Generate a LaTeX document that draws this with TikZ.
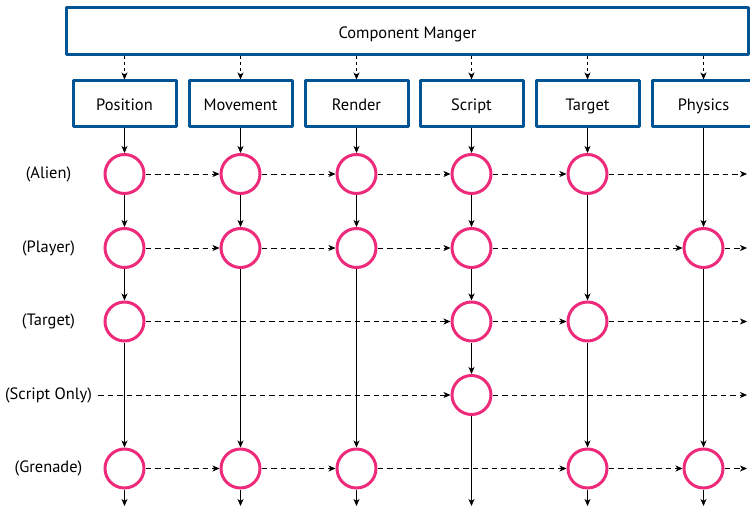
\documentclass[tikz,border=0pt]{standalone}
\usepackage{fontspec}
\setmainfont{PT Sans}
\usetikzlibrary{arrows.meta}
\definecolor{mgrblue}{RGB}{0,84,147}
\definecolor{entpink}{RGB}{237,43,122}

\begin{document}
\begin{tikzpicture}[x=1bp,y=-1bp,line join=round,>={Stealth[length=7bp,width=6bp,inset=2bp]},
  comp/.style={draw=mgrblue,line width=3bp,minimum width=103bp,minimum height=46bp,inner sep=0pt,text height=14bp,text depth=0pt,font=\fontsize{16.5}{19}\selectfont},
  ent/.style={circle,draw=entpink,line width=3bp,minimum size=39bp,inner sep=0pt},
  lbl/.style={font=\fontsize{16.5}{19}\selectfont,inner sep=2bp},
  link/.style={->,line width=0.8bp},
  pass/.style={->,line width=0.8bp,dash pattern=on 5.5bp off 4bp}]
\useasboundingbox (0,0) rectangle (750,508);
\clip (0,0) rectangle (750,508);
% manager and components
\node[comp,minimum width=681bp,minimum height=47bp] (mgr) at (407.5,31.5) {Component Manger};
\node[comp] (cpos) at (124.5,104) {Position};
\node[comp] (cmov) at (240.5,104) {Movement};
\node[comp] (cren) at (356.5,104) {Render};
\node[comp] (cscr) at (471.5,104) {Script};
\node[comp] (ctgt) at (587.5,104) {Target};
\node[comp] (cphy) at (703.5,104) {Physics};
% entity labels
\node[lbl] (lali) at (48.5,174) {(Alien)};
\node[lbl] (lpla) at (48.5,248) {(Player)};
\node[lbl] (ltgt) at (48.5,321.5) {(Target)};
\node[lbl] (lscr) at (48.5,395) {(Script Only)};
\node[lbl] (lgre) at (48.5,468.5) {(Grenade)};
% entities
\node[ent] (a1) at (124.5,174) {};
\node[ent] (a2) at (240.5,174) {};
\node[ent] (a3) at (356.5,174) {};
\node[ent] (a4) at (471.5,174) {};
\node[ent] (a5) at (587.5,174) {};
\node[ent] (p1) at (124.5,248) {};
\node[ent] (p2) at (240.5,248) {};
\node[ent] (p3) at (356.5,248) {};
\node[ent] (p4) at (471.5,248) {};
\node[ent] (p6) at (703.5,248) {};
\node[ent] (t1) at (124.5,321.5) {};
\node[ent] (t4) at (471.5,321.5) {};
\node[ent] (t5) at (587.5,321.5) {};
\node[ent] (s4) at (471.5,395) {};
\node[ent] (g1) at (124.5,468.5) {};
\node[ent] (g2) at (240.5,468.5) {};
\node[ent] (g3) at (356.5,468.5) {};
\node[ent] (g5) at (587.5,468.5) {};
\node[ent] (g6) at (703.5,468.5) {};
% free ends
\coordinate (eali) at (747,174);
\coordinate (epla) at (747,248);
\coordinate (etgt) at (747,321.5);
\coordinate (escr) at (747,395);
\coordinate (egre) at (747,468.5);
\coordinate (bpos) at (124.5,506);
\coordinate (bmov) at (240.5,506);
\coordinate (bren) at (356.5,506);
\coordinate (bscr) at (471.5,506);
\coordinate (btgt) at (587.5,506);
\coordinate (bphy) at (703.5,506);
% manager to components
\draw[pass,dash pattern=on 3bp off 3bp] (mgr.south -| cpos) -- (cpos);
\draw[pass,dash pattern=on 3bp off 3bp] (mgr.south -| cmov) -- (cmov);
\draw[pass,dash pattern=on 3bp off 3bp] (mgr.south -| cren) -- (cren);
\draw[pass,dash pattern=on 3bp off 3bp] (mgr.south -| cscr) -- (cscr);
\draw[pass,dash pattern=on 3bp off 3bp] (mgr.south -| ctgt) -- (ctgt);
\draw[pass,dash pattern=on 3bp off 3bp] (mgr.south -| cphy) -- (cphy);
% component columns
\draw[link] (cpos) -- (a1);
\draw[link] (a1) -- (p1);
\draw[link] (p1) -- (t1);
\draw[link] (t1) -- (g1);
\draw[link] (g1) -- (bpos);
\draw[link] (cmov) -- (a2);
\draw[link] (a2) -- (p2);
\draw[link] (p2) -- (g2);
\draw[link] (g2) -- (bmov);
\draw[link] (cren) -- (a3);
\draw[link] (a3) -- (p3);
\draw[link] (p3) -- (g3);
\draw[link] (g3) -- (bren);
\draw[link] (cscr) -- (a4);
\draw[link] (a4) -- (p4);
\draw[link] (p4) -- (t4);
\draw[link] (t4) -- (s4);
\draw[link] (s4) -- (bscr);
\draw[link] (ctgt) -- (a5);
\draw[link] (a5) -- (t5);
\draw[link] (t5) -- (g5);
\draw[link] (g5) -- (btgt);
\draw[link] (cphy) -- (p6);
\draw[link] (p6) -- (g6);
\draw[link] (g6) -- (bphy);
% entity rows
\draw[pass] (a1) -- (a2);
\draw[pass] (a2) -- (a3);
\draw[pass] (a3) -- (a4);
\draw[pass] (a4) -- (a5);
\draw[pass] (a5) -- (eali);
\draw[pass] (p1) -- (p2);
\draw[pass] (p2) -- (p3);
\draw[pass] (p3) -- (p4);
\draw[pass] (p4) -- (p6);
\draw[pass] (p6) -- (epla);
\draw[pass] (t1) -- (t4);
\draw[pass] (t4) -- (t5);
\draw[pass] (t5) -- (etgt);
\draw[pass,shorten <=4bp] (lscr) -- (s4);
\draw[pass] (s4) -- (escr);
\draw[pass] (g1) -- (g2);
\draw[pass] (g2) -- (g3);
\draw[pass] (g3) -- (g5);
\draw[pass] (g5) -- (g6);
\draw[pass] (g6) -- (egre);
\end{tikzpicture}
\end{document}
